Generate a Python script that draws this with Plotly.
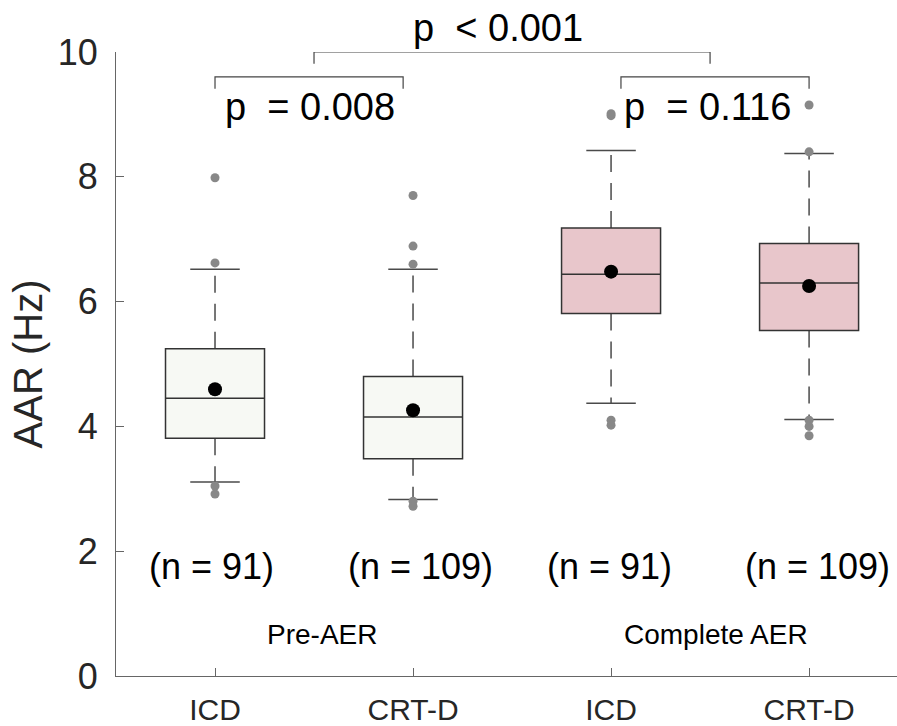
import plotly.graph_objects as go

# ---------------- data ----------------
categories = ["ICD", "CRT-D", "ICD", "CRT-D"]
positions = [1, 2, 3, 4]
groups = ["Pre-AER", "Complete AER"]
n_counts = [91, 109, 91, 109]

q1 = [3.81, 3.48, 5.81, 5.535]
median = [4.45, 4.15, 6.44, 6.30]
q3 = [5.245, 4.80, 7.18, 6.93]
mean = [4.595, 4.26, 6.48, 6.25]
lower_whisker = [3.11, 2.83, 4.37, 4.11]
upper_whisker = [6.52, 6.52, 8.42, 8.375]
outliers = [
    [7.985, 6.62, 3.045, 2.917],
    [7.70, 6.89, 6.60, 2.80, 2.72],
    [9.01, 8.98, 4.10, 4.02],
    [9.15, 8.40, 4.10, 4.00, 3.85],
]

# significance brackets
bracket_left = [1.0, 3.05, 1.5]
bracket_right = [1.95, 4.0, 3.5]
bracket_top = [9.6, 9.6, 10.0]
bracket_labels = ["p  = 0.008", "p  = 0.116", "p  < 0.001"]

Y_MIN, Y_MAX = 0, 10

# ---------------- style ----------------
box_fill = ["#F7F9F4", "#F7F9F4", "#E8C6CB", "#E8C6CB"]
edge = "#333333"
whisk = "#4a4a4a"
font_family = "Liberation Sans, Arial, Helvetica, sans-serif"
half_box = 0.25
half_cap = 0.125

fig = go.Figure()
shapes = []

for i, x in enumerate(positions):
    shapes.append(dict(type="line", xref="x", yref="y", x0=x, x1=x, y0=q3[i], y1=upper_whisker[i],
                       line=dict(color=whisk, width=1.5, dash="17px,11px"), layer="below"))
    shapes.append(dict(type="line", xref="x", yref="y", x0=x, x1=x, y0=q1[i], y1=lower_whisker[i],
                       line=dict(color=whisk, width=1.5, dash="17px,11px"), layer="below"))
    for yv in (upper_whisker[i], lower_whisker[i]):
        shapes.append(dict(type="line", xref="x", yref="y", x0=x - half_cap, x1=x + half_cap, y0=yv, y1=yv,
                           line=dict(color=whisk, width=1.5), layer="below"))
    shapes.append(dict(type="rect", xref="x", yref="y", x0=x - half_box, x1=x + half_box, y0=q1[i], y1=q3[i],
                       fillcolor=box_fill[i], line=dict(color=edge, width=1.5), layer="below"))
    shapes.append(dict(type="line", xref="x", yref="y", x0=x - half_box, x1=x + half_box, y0=median[i], y1=median[i],
                       line=dict(color=edge, width=1.5), layer="below"))

ox, oy = [], []
for i, x in enumerate(positions):
    for v in outliers[i]:
        ox.append(x)
        oy.append(v)
fig.add_trace(go.Scatter(x=ox, y=oy, mode="markers",
                         marker=dict(color="#888888", size=9, line=dict(width=0)),
                         showlegend=False, hoverinfo="y"))
fig.add_trace(go.Scatter(x=positions, y=mean, mode="markers",
                         marker=dict(color="#000000", size=14, line=dict(width=0)),
                         showlegend=False, hoverinfo="y"))

annotations = []
for xl, xr, yt in zip(bracket_left, bracket_right, bracket_top):
    drop = 0.19
    shapes.append(dict(type="path", xref="x", yref="y",
                       path=f"M {xl},{yt - drop} L {xl},{yt} L {xr},{yt} L {xr},{yt - drop}",
                       line=dict(color="#444444", width=1.2)))

pfont = dict(size=38, color="#000000", family=font_family)
annotations.append(dict(x=1.48, y=9.12, xref="x", yref="y", text=bracket_labels[0], showarrow=False,
                        font=pfont, yanchor="middle"))
annotations.append(dict(x=3.485, y=9.12, xref="x", yref="y", text=bracket_labels[1], showarrow=False,
                        font=pfont, yanchor="middle"))
# top label sits above the axis range -> place in paper coordinates derived from the data value
annotations.append(dict(x=2.43, y=(10.39 - Y_MIN) / (Y_MAX - Y_MIN), xref="x", yref="paper",
                        text=bracket_labels[2], showarrow=False, font=pfont,
                        xanchor="center", yanchor="middle"))

n_x = [0.98, 2.04, 2.99, 4.04]
for xv, n in zip(n_x, n_counts):
    annotations.append(dict(x=xv, y=1.75, xref="x", yref="y", text=f"(n = {n})", showarrow=False,
                            font=dict(size=36, color="#000000", family=font_family), yanchor="middle"))

gfont = dict(size=28, color="#000000", family=font_family)
annotations.append(dict(x=1.54, y=0.67, xref="x", yref="y", text=groups[0], showarrow=False, font=gfont))
annotations.append(dict(x=3.53, y=0.67, xref="x", yref="y", text=groups[1], showarrow=False, font=gfont))

fig.update_layout(
    width=897, height=726,
    margin=dict(l=116, r=0, t=52, b=50),
    paper_bgcolor="white", plot_bgcolor="white",
    shapes=shapes, annotations=annotations,
    showlegend=False,
    font=dict(family=font_family, color="#262626"),
    xaxis=dict(range=[0.5, 4.444], tickmode="array", tickvals=positions, ticktext=categories,
               showline=True, linecolor="#666666", linewidth=1.2, ticks="inside", ticklen=8,
               tickcolor="#666666", tickfont=dict(size=30, color="#262626"),
               showgrid=False, zeroline=False, ticklabelstandoff=7),
    yaxis=dict(range=[Y_MIN, Y_MAX], tickmode="array", tickvals=[0, 2, 4, 6, 8, 10],
               showline=True, linecolor="#666666", linewidth=1.2, ticks="inside", ticklen=8,
               tickcolor="#666666", tickfont=dict(size=36, color="#262626"),
               showgrid=False, zeroline=False, ticklabelstandoff=10,
               title=dict(text="AAR (Hz)", font=dict(size=40, color="#262626"), standoff=2)),
)

fig.write_html("out.html")
